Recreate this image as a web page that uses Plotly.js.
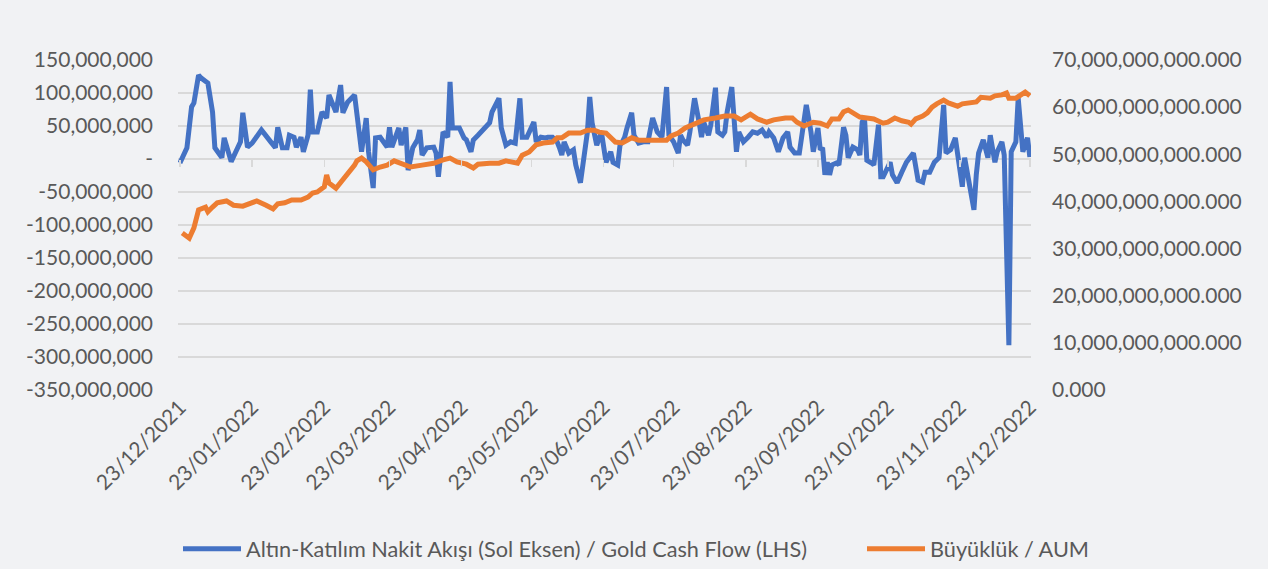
<!DOCTYPE html>
<html>
<head>
<meta charset="utf-8">
<script src="https://cdn.plot.ly/plotly-3.0.1.min.js"></script>
<style>html,body{margin:0;padding:0;background:#f1f2f4;}#chart{width:1268px;height:569px;}</style>
</head>
<body>
<div id="chart"></div>
<script>
// Altın-Katılım cash flow, millions TRY (left axis)
const cashFlowDates = ['2021-12-23','2021-12-26','2021-12-28','2021-12-29','2021-12-31','2022-01-01','2022-01-04','2022-01-06','2022-01-07','2022-01-10','2022-01-11','2022-01-13','2022-01-14','2022-01-16','2022-01-18','2022-01-19','2022-01-21','2022-01-23','2022-01-27','2022-01-31','2022-02-02','2022-02-03','2022-02-05','2022-02-07','2022-02-08','2022-02-10','2022-02-11','2022-02-13','2022-02-14','2022-02-16','2022-02-17','2022-02-18','2022-02-20','2022-02-22','2022-02-24','2022-02-25','2022-02-26','2022-02-28','2022-03-02','2022-03-03','2022-03-05','2022-03-08','2022-03-11','2022-03-13','2022-03-14','2022-03-16','2022-03-17','2022-03-19','2022-03-22','2022-03-23','2022-03-24','2022-03-27','2022-03-28','2022-03-30','2022-03-31','2022-04-02','2022-04-04','2022-04-05','2022-04-06','2022-04-08','2022-04-11','2022-04-12','2022-04-13','2022-04-15','2022-04-17','2022-04-18','2022-04-19','2022-04-22','2022-04-24','2022-04-25','2022-04-27','2022-04-28','2022-04-30','2022-05-03','2022-05-05','2022-05-06','2022-05-09','2022-05-10','2022-05-12','2022-05-14','2022-05-16','2022-05-18','2022-05-19','2022-05-21','2022-05-24','2022-05-25','2022-05-27','2022-05-29','2022-05-30','2022-06-01','2022-06-03','2022-06-04','2022-06-05','2022-06-06','2022-06-08','2022-06-10','2022-06-11','2022-06-13','2022-06-14','2022-06-16','2022-06-17','2022-06-18','2022-06-20','2022-06-22','2022-06-23','2022-06-24','2022-06-26','2022-06-27','2022-06-29','2022-06-30','2022-07-01','2022-07-02','2022-07-03','2022-07-05','2022-07-06','2022-07-08','2022-07-10','2022-07-12','2022-07-14','2022-07-16','2022-07-18','2022-07-20','2022-07-21','2022-07-23','2022-07-25','2022-07-26','2022-07-27','2022-07-29','2022-07-30','2022-08-01','2022-08-03','2022-08-04','2022-08-05','2022-08-07','2022-08-08','2022-08-10','2022-08-11','2022-08-13','2022-08-14','2022-08-15','2022-08-17','2022-08-18','2022-08-19','2022-08-20','2022-08-22','2022-08-24','2022-08-26','2022-08-28','2022-08-30','2022-09-01','2022-09-02','2022-09-04','2022-09-06','2022-09-08','2022-09-10','2022-09-11','2022-09-13','2022-09-15','2022-09-17','2022-09-18','2022-09-20','2022-09-21','2022-09-23','2022-09-24','2022-09-25','2022-09-26','2022-09-27','2022-09-28','2022-09-29','2022-10-01','2022-10-02','2022-10-04','2022-10-05','2022-10-06','2022-10-08','2022-10-10','2022-10-11','2022-10-12','2022-10-13','2022-10-14','2022-10-16','2022-10-17','2022-10-19','2022-10-20','2022-10-21','2022-10-23','2022-10-24','2022-10-25','2022-10-27','2022-10-29','2022-10-31','2022-11-03','2022-11-05','2022-11-07','2022-11-08','2022-11-10','2022-11-12','2022-11-14','2022-11-16','2022-11-17','2022-11-19','2022-11-21','2022-11-22','2022-11-24','2022-11-25','2022-11-26','2022-11-29','2022-11-30','2022-12-01','2022-12-03','2022-12-05','2022-12-06','2022-12-08','2022-12-09','2022-12-11','2022-12-12','2022-12-14','2022-12-15','2022-12-17','2022-12-18','2022-12-20','2022-12-22','2022-12-23'];
const cashFlowMillions = [-6,17,79,85,127,123,115,71,17,2,32,11,-4,11,26,70,18,24,44,26,17,48,17,17,36,33,18,33,11,36,105,41,41,71,62,97,89,71,112,70,86,97,11,62,11,-44,32,33,18,48,18,47,21,48,-17,17,29,44,6,17,18,9,-27,41,33,117,47,47,32,29,11,29,36,47,55,71,92,47,21,26,24,92,33,33,56,26,33,32,33,33,26,17,6,26,9,14,-9,-36,-14,41,94,55,21,41,18,-5,11,-5,-9,21,26,33,47,70,36,24,26,26,62,41,33,109,36,26,9,36,29,21,41,92,55,33,55,36,52,108,41,36,41,71,109,47,11,41,26,33,41,39,44,33,41,32,11,32,41,18,9,9,52,82,41,11,47,14,17,-24,-5,-24,-9,-6,-9,48,36,2,18,14,6,56,62,-2,-6,-9,52,-27,-27,-9,-5,-24,-36,-20,-5,9,-32,-35,-20,-20,-5,2,82,9,14,32,11,-42,2,-20,-77,-24,9,29,2,36,-5,11,26,6,-282,11,26,92,11,32,3];

// Assets under management, billions TRY (right axis)
const aumDates = ['2021-12-24','2021-12-27','2021-12-29','2021-12-31','2022-01-03','2022-01-04','2022-01-06','2022-01-08','2022-01-12','2022-01-15','2022-01-19','2022-01-23','2022-01-25','2022-01-29','2022-02-01','2022-02-03','2022-02-06','2022-02-09','2022-02-13','2022-02-16','2022-02-18','2022-02-20','2022-02-23','2022-02-24','2022-02-25','2022-02-28','2022-03-03','2022-03-05','2022-03-08','2022-03-09','2022-03-11','2022-03-13','2022-03-16','2022-03-19','2022-03-22','2022-03-25','2022-03-29','2022-04-01','2022-04-06','2022-04-11','2022-04-15','2022-04-18','2022-04-21','2022-04-25','2022-04-28','2022-04-30','2022-05-05','2022-05-09','2022-05-12','2022-05-15','2022-05-17','2022-05-19','2022-05-22','2022-05-25','2022-05-28','2022-06-01','2022-06-03','2022-06-05','2022-06-08','2022-06-13','2022-06-16','2022-06-19','2022-06-21','2022-06-24','2022-06-26','2022-06-28','2022-07-01','2022-07-05','2022-07-08','2022-07-12','2022-07-16','2022-07-20','2022-07-22','2022-07-25','2022-07-28','2022-07-31','2022-08-02','2022-08-05','2022-08-10','2022-08-14','2022-08-18','2022-08-21','2022-08-25','2022-08-28','2022-09-01','2022-09-04','2022-09-09','2022-09-12','2022-09-14','2022-09-17','2022-09-21','2022-09-24','2022-09-27','2022-09-29','2022-10-02','2022-10-04','2022-10-06','2022-10-08','2022-10-11','2022-10-14','2022-10-17','2022-10-21','2022-10-23','2022-10-26','2022-10-29','2022-11-01','2022-11-02','2022-11-04','2022-11-07','2022-11-09','2022-11-11','2022-11-13','2022-11-16','2022-11-18','2022-11-22','2022-11-24','2022-11-28','2022-11-30','2022-12-02','2022-12-05','2022-12-06','2022-12-08','2022-12-11','2022-12-13','2022-12-14','2022-12-17','2022-12-19','2022-12-21','2022-12-23'];
const aumBillions = [33.3,32.2,34.4,38.2,38.8,37.8,38.8,39.7,40.1,39.2,39.0,39.7,40.1,39.2,38.4,39.5,39.7,40.3,40.3,40.9,41.8,42.0,43.1,45.6,43.9,42.8,44.5,46.0,47.7,48.6,49.2,48.4,46.7,47.3,47.7,48.6,47.7,47.3,47.7,48.1,48.8,49.2,48.4,47.9,47.1,47.9,48.1,48.1,48.6,48.4,48.1,49.8,50.5,52.0,52.4,52.6,53.5,53.5,54.5,54.5,55.1,55.1,54.7,54.5,53.7,52.6,52.4,53.5,53.0,53.0,53.0,53.0,53.9,54.5,55.6,56.2,56.8,57.3,57.7,58.1,58.1,57.3,58.5,57.5,56.8,57.3,57.7,57.7,56.8,56.0,56.8,56.6,56.0,57.5,57.5,59.0,59.4,58.8,57.9,57.7,57.5,56.6,56.8,57.7,57.1,56.8,56.4,57.5,58.1,58.8,60.0,60.7,61.5,60.9,60.2,60.7,60.9,61.1,62.1,62.1,61.9,62.4,62.6,63.0,61.9,61.9,62.6,63.2,62.4];

// Axis ticks
const monthTickDates = ['2021-12-23','2022-01-23','2022-02-23','2022-03-23','2022-04-23','2022-05-23','2022-06-23','2022-07-23','2022-08-23','2022-09-23','2022-10-23','2022-11-23','2022-12-23'];
const monthTickLabels = ['23/12/2021','23/01/2022','23/02/2022','23/03/2022','23/04/2022','23/05/2022','23/06/2022','23/07/2022','23/08/2022','23/09/2022','23/10/2022','23/11/2022','23/12/2022'];
const leftTickValues = [150e6,100e6,50e6,0,-50e6,-100e6,-150e6,-200e6,-250e6,-300e6,-350e6];
const leftTickLabels = ['150,000,000','100,000,000','50,000,000','-','-50,000,000','-100,000,000','-150,000,000','-200,000,000','-250,000,000','-300,000,000','-350,000,000'];

const seriesNames = ['Altın-Katılım Nakit Akışı (Sol Eksen) / Gold Cash Flow (LHS)', 'Büyüklük / AUM'];

const cashFlow = cashFlowMillions.map(v => v * 1e6);
const aum = aumBillions.map(v => v * 1e9);

const xRange = ['2021-12-22 04:00', '2022-12-23 12:00'];
const textColor = '#595959';
const gridColor = '#d9d9d9';

const traces = [
  {x: cashFlowDates, y: cashFlow, type: 'scatter', mode: 'lines', name: seriesNames[0],
   line: {color: '#4472C4', width: 5, shape: 'linear'}, yaxis: 'y', xaxis: 'x', legend: 'legend'},
  {x: aumDates, y: aum, type: 'scatter', mode: 'lines', name: seriesNames[1],
   line: {color: '#ED7D31', width: 5, shape: 'linear'}, yaxis: 'y2', xaxis: 'x', legend: 'legend2'},
  {x: cashFlowDates, y: cashFlowDates.map(() => null), type: 'scatter', mode: 'lines', xaxis: 'x2', yaxis: 'y',
   showlegend: false, hoverinfo: 'skip'}
];

const legendBase = {orientation: 'h', xref: 'container', yref: 'container', xanchor: 'left',
  y: 0.035, yanchor: 'middle', font: {size: 21.7, color: textColor}, bgcolor: 'rgba(0,0,0,0)', itemwidth: 58};

const layout = {
  width: 1268, height: 569,
  margin: {l: 178, r: 237, t: 60, b: 179, pad: 0},
  paper_bgcolor: '#f1f2f4', plot_bgcolor: '#f1f2f4',
  font: {family: 'Lato, "Open Sans", sans-serif', size: 21, color: textColor},
  showlegend: true,
  legend: Object.assign({}, legendBase, {x: 178 / 1268}),
  legend2: Object.assign({}, legendBase, {x: 862 / 1268}),
  xaxis: {type: 'date', range: xRange, tickvals: monthTickDates, ticktext: monthTickLabels,
          tickangle: -45, showgrid: false, zeroline: false, showline: false, ticks: '',
          tickfont: {size: 21, color: textColor}},
  xaxis2: {type: 'date', range: xRange, tickvals: monthTickDates, overlaying: 'x', anchor: 'free',
           position: 0.7, side: 'bottom', ticks: 'outside', ticklen: 7, tickwidth: 1.5, tickcolor: gridColor,
           showticklabels: false, showgrid: false, zeroline: false, showline: false},
  yaxis: {range: [-350e6, 150e6], tickvals: leftTickValues, ticktext: leftTickLabels,
          showgrid: true, gridcolor: gridColor, gridwidth: 1.5, zeroline: false, showline: false,
          ticks: '', ticklabelstandoff: 24, tickfont: {size: 21, color: textColor}},
  yaxis2: {range: [0, 70e9], dtick: 10e9, tick0: 0, tickformat: ',.3f', overlaying: 'y', side: 'right',
           showgrid: false, zeroline: false, showline: false, ticks: '', ticklabelstandoff: 20,
           tickfont: {size: 21, color: textColor}}
};

Plotly.newPlot('chart', traces, layout, {displayModeBar: false, staticPlot: true});
</script>
</body>
</html>
